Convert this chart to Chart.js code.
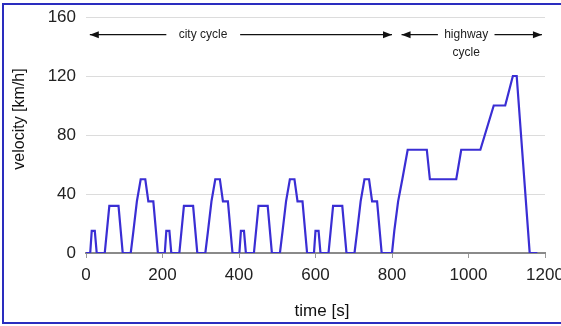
<!DOCTYPE html>
<html>
<head>
<meta charset="utf-8">
<script src="https://cdn.jsdelivr.net/npm/chart.js@4/dist/chart.umd.min.js"></script>
<style>
  html, body { margin: 0; padding: 0; background: #fff; }
  #wrap { position: relative; width: 561px; height: 326px; }
</style>
</head>
<body>
<div id="wrap"><canvas id="cycleChart" width="561" height="326"></canvas></div>
<script>
// NEDC drive cycle: 4 x city (ECE-15) + highway (EUDC)
const timeS = [
  0, 11, 15, 23, 28, 49, 61, 85, 96, 117, 124, 133, 143, 155, 163, 176, 188,
  195, 206, 210, 218, 223, 244, 256, 280, 291, 312, 319, 328, 338, 350, 358, 371, 383,
  390, 401, 405, 413, 418, 439, 451, 475, 486, 507, 514, 523, 533, 545, 553, 566, 578,
  585, 596, 600, 608, 613, 634, 646, 670, 681, 702, 709, 718, 728, 740, 748, 761, 773,
  800, 806, 816, 827, 841, 891, 899, 968, 981, 1031, 1066, 1096, 1116, 1126, 1160, 1180
];
const velocityKmh = [
  0, 0, 15, 15, 0, 0, 32, 32, 0, 0, 15, 35, 50, 50, 35, 35, 0,
  0, 0, 15, 15, 0, 0, 32, 32, 0, 0, 15, 35, 50, 50, 35, 35, 0,
  0, 0, 15, 15, 0, 0, 32, 32, 0, 0, 15, 35, 50, 50, 35, 35, 0,
  0, 0, 15, 15, 0, 0, 32, 32, 0, 0, 15, 35, 50, 50, 35, 35, 0,
  0, 15, 35, 50, 70, 70, 50, 50, 70, 70, 100, 100, 120, 120, 0, 0
];
const xTicks = [0, 200, 400, 600, 800, 1000, 1200];
const yTicks = [0, 40, 80, 120, 160];

const FONT = "'Liberation Sans', Arial, Helvetica, sans-serif";
const lineColor = '#3a2ed4';

const points = timeS.map((t, i) => ({ x: t, y: velocityKmh[i] }));

// frame, axis titles and the city / highway arrows
const decorations = {
  id: 'decorations',
  beforeDraw(chart) {
    const ctx = chart.ctx;
    ctx.save();
    ctx.strokeStyle = '#2a2dbf';
    ctx.lineWidth = 2;
    ctx.strokeRect(3, 4, 570, 319);
    ctx.restore();
  },
  afterDraw(chart) {
    const ctx = chart.ctx;
    const xs = chart.scales.x, ys = chart.scales.y;
    ctx.save();
    ctx.fillStyle = '#111';
    ctx.font = '17px ' + FONT;
    ctx.textAlign = 'center';
    ctx.textBaseline = 'middle';
    ctx.fillText('time [s]', 322, 311);
    ctx.translate(20, 119);
    ctx.rotate(-Math.PI / 2);
    ctx.font = '16px ' + FONT;
    ctx.fillText('velocity [km/h]', 0, 0);
    ctx.restore();

    function arrow(x1, x2, y, headLeft, headRight) {
      ctx.beginPath();
      ctx.moveTo(x1, y);
      ctx.lineTo(x2, y);
      ctx.stroke();
      if (headLeft) {
        ctx.beginPath();
        ctx.moveTo(x1, y);
        ctx.lineTo(x1 + 9, y - 3.5);
        ctx.lineTo(x1 + 9, y + 3.5);
        ctx.closePath();
        ctx.fill();
      }
      if (headRight) {
        ctx.beginPath();
        ctx.moveTo(x2, y);
        ctx.lineTo(x2 - 9, y - 3.5);
        ctx.lineTo(x2 - 9, y + 3.5);
        ctx.closePath();
        ctx.fill();
      }
    }

    ctx.save();
    ctx.strokeStyle = '#111';
    ctx.fillStyle = '#111';
    ctx.lineWidth = 1.2;
    const ay = ys.getPixelForValue(148);
    arrow(xs.getPixelForValue(10), xs.getPixelForValue(210), ay, true, false);
    arrow(xs.getPixelForValue(403), xs.getPixelForValue(800), ay, false, true);
    arrow(xs.getPixelForValue(825), xs.getPixelForValue(920), ay, true, false);
    arrow(xs.getPixelForValue(1068), xs.getPixelForValue(1192), ay, false, true);
    ctx.font = '12px ' + FONT;
    ctx.textAlign = 'center';
    ctx.textBaseline = 'middle';
    ctx.fillStyle = '#222';
    ctx.fillText('city cycle', xs.getPixelForValue(306), ay);
    const hx = xs.getPixelForValue(994);
    ctx.fillText('highway', hx, ay);
    ctx.fillText('cycle', hx, ys.getPixelForValue(136));
    ctx.restore();
  }
};

new Chart(document.getElementById('cycleChart'), {
  type: 'line',
  data: {
    datasets: [{
      data: points,
      borderColor: lineColor,
      borderWidth: 2.2,
      pointRadius: 0,
      tension: 0,
      fill: false
    }]
  },
  options: {
    responsive: false,
    animation: false,
    events: [],
    layout: { padding: { left: 0, top: 17, right: 16, bottom: 0 } },
    plugins: { legend: { display: false }, tooltip: { enabled: false } },
    scales: {
      x: {
        type: 'linear',
        min: 0,
        max: 1200,
        afterFit(scale) {
          scale.height = 73;
          scale.paddingLeft = 0;
          scale.paddingRight = 0;
        },
        afterBuildTicks(scale) { scale.ticks = xTicks.map(v => ({ value: v })); },
        grid: { drawOnChartArea: false, drawTicks: true, tickLength: 5, color: '#999', lineWidth: 1 },
        border: { display: true, color: '#8a8a8a', width: 2 },
        ticks: {
          color: '#222', font: { family: FONT, size: 17 }, padding: 7,
          maxRotation: 0, autoSkip: false,
          callback: v => String(v)
        }
      },
      y: {
        min: 0,
        max: 160,
        afterFit(scale) {
          scale.width = 86;
          scale.paddingTop = 0;
          scale.paddingBottom = 0;
        },
        afterBuildTicks(scale) { scale.ticks = yTicks.map(v => ({ value: v })); },
        grid: { drawTicks: false, color: '#dcdcdc', lineWidth: 1 },
        border: { display: false },
        ticks: { color: '#222', font: { family: FONT, size: 17 }, padding: 10 }
      }
    }
  },
  plugins: [decorations]
});
</script>
</body>
</html>
